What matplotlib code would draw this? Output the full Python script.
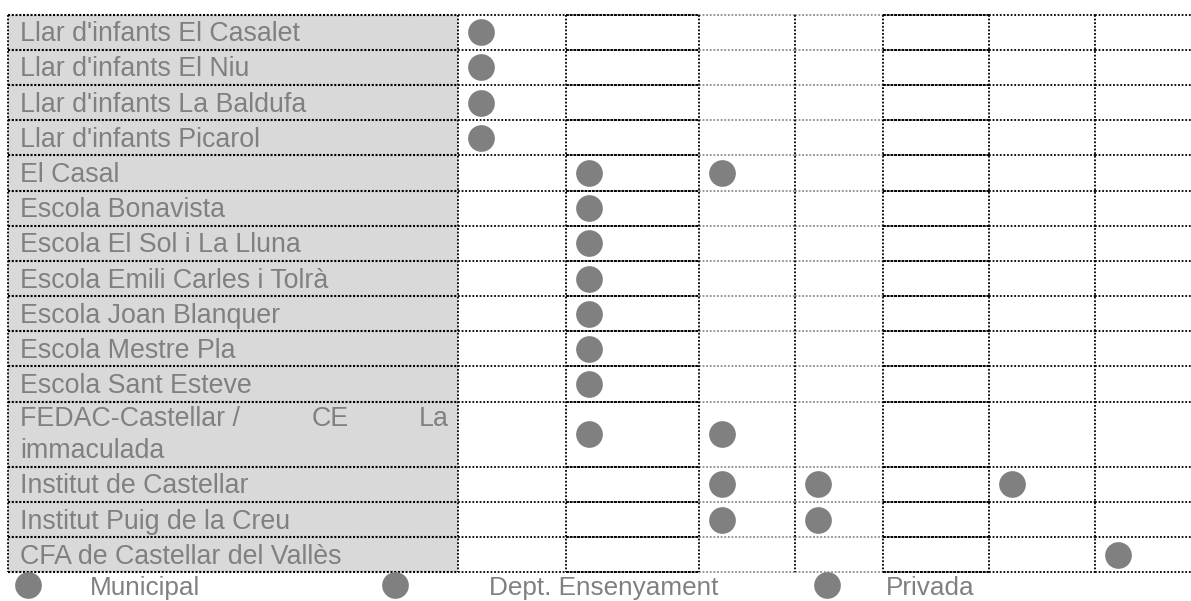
import matplotlib
matplotlib.use('Agg')
import matplotlib.pyplot as plt
plt.rcParams['font.family'] = ['Liberation Sans', 'DejaVu Sans']

# centres and the columns (1..7) where each one has a dot
schools = ["Llar d'infants El Casalet", "Llar d'infants El Niu",
           "Llar d'infants La Baldufa", "Llar d'infants Picarol",
           "El Casal", "Escola Bonavista", "Escola El Sol i La Lluna",
           "Escola Emili Carles i Tolrà", "Escola Joan Blanquer",
           "Escola Mestre Pla", "Escola Sant Esteve",
           "FEDAC-Castellar / CE La immaculada",
           "Institut de Castellar", "Institut Puig de la Creu",
           "CFA de Castellar del Vallès"]
dots = [[1], [1], [1], [1], [2, 3], [2], [2], [2], [2], [2], [2],
        [2, 3], [3, 4, 6], [3, 4], [7]]
row_units = [1] * 11 + [1.85] + [1] * 3
legend_labels = ['Municipal', 'Dept. Ensenyament', 'Privada']

DOT = '#808080'
TXT = '#808080'
CELL = '#d9d9d9'

# layout in pixels
top, row_h = 14.5, 35.2
left = 8
col_edges = [458, 566, 699, 795, 883, 989, 1095, 1191]

fig = plt.figure(figsize=(11.91, 6.01), dpi=100)
ax = fig.add_axes([0, 0, 1, 1])
ax.set_xlim(0, 1191)
ax.set_ylim(601, 0)
ax.axis('off')

bounds = [top]
for u in row_units:
    bounds.append(bounds[-1] + u * row_h)
bottom = bounds[-1]

# grey name column
ax.fill_between([left, col_edges[0]], top, bottom, color=CELL, lw=0, zorder=0)

dotted = dict(ls=(0, (1, 1)), lw=1.3)
seg_style = [('black', dict(ls=(0, (1, 0.8)), lw=1.5)), ('black', dotted),
             ('black', dict(ls=(0, (1.5, 0.4)), lw=1.4)),
             ('#8c8c8c', dotted), ('#8c8c8c', dotted),
             ('black', dict(ls=(0, (1.5, 0.4)), lw=1.4)),
             ('black', dotted), ('black', dotted)]
xs = [left] + col_edges
for y in bounds:
    for i in range(len(xs) - 1):
        c, st = seg_style[i]
        ax.plot([xs[i], xs[i + 1]], [y, y], color=c, zorder=2, **st)
for x in [left] + col_edges[:-1]:
    ax.plot([x, x], [top, bottom], color='black', zorder=2, **dotted)

fs = 19.3
for i, name in enumerate(schools):
    yc = (bounds[i] + bounds[i + 1]) / 2
    if name.startswith('FEDAC'):
        h = bounds[i + 1] - bounds[i]
        y1 = bounds[i] + h * 0.26
        y2 = bounds[i] + h * 0.75
        ax.text(20, y1, 'FEDAC-Castellar /', color=TXT, fontsize=fs, va='center')
        ax.text(330, y1, 'CE', color=TXT, fontsize=fs, va='center', ha='center')
        ax.text(449, y1, 'La', color=TXT, fontsize=fs, va='center', ha='right')
        ax.text(20, y2, 'immaculada', color=TXT, fontsize=fs, va='center')
    else:
        ax.text(20, yc + 2, name, color=TXT, fontsize=fs, va='center')
    for c in dots[i]:
        ax.scatter(col_edges[c - 1] + 22.5, yc, s=370, color=DOT, lw=0, zorder=3)

# legend row
leg_dot_x = [27.5, 395, 826.5]
leg_txt_x = [90, 489, 886]
for lab, dx, tx in zip(legend_labels, leg_dot_x, leg_txt_x):
    ax.scatter(dx, 585, s=370, color=DOT, lw=0, zorder=3)
    ax.text(tx, 588, lab, color=TXT, fontsize=18.8, va='center')

plt.savefig('out.png', dpi=100)
plt.close()
